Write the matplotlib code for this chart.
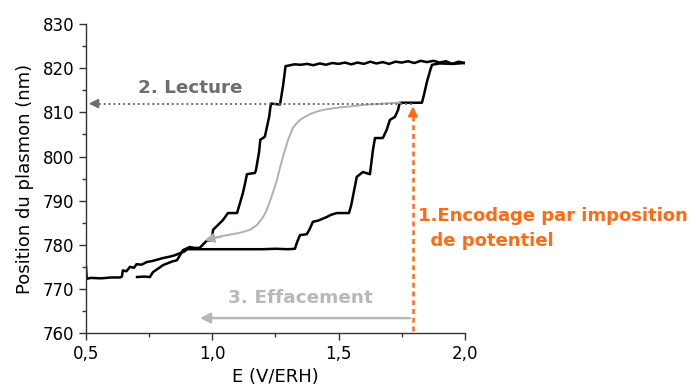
import numpy as np
import matplotlib
matplotlib.use('Agg')
import matplotlib.pyplot as plt
from matplotlib.ticker import MultipleLocator, FuncFormatter

plt.rcParams['font.family'] = ['DejaVu Sans']

# aller : balayage vers les potentiels croissants
E_aller = [0.500, 0.503, 0.52, 0.56, 0.60, 0.635, 0.642, 0.646, 0.66, 0.674, 0.69, 0.70,
           0.72, 0.741, 0.76, 0.78, 0.805, 0.83, 0.85, 0.872, 0.89, 0.90, 0.95, 1.00,
           1.10, 1.20, 1.25, 1.30, 1.327, 1.335, 1.347, 1.374, 1.385, 1.398, 1.42, 1.453,
           1.47, 1.493, 1.541, 1.55, 1.572, 1.596, 1.624, 1.636, 1.644, 1.675, 1.69, 1.703,
           1.723, 1.735, 1.742, 1.79, 1.83, 1.838, 1.85, 1.865, 1.87, 1.90, 1.95, 2.00]
P_aller = [775.0, 772.3, 772.5, 772.4, 772.6, 772.6, 772.8, 774.2, 774.0, 775.0, 774.8, 775.6,
           775.5, 776.1, 776.3, 776.6, 777.0, 777.3, 777.6, 778.1, 778.5, 779.0, 779.0, 779.0,
           779.0, 779.0, 779.1, 779.0, 779.1, 780.5, 782.2, 782.4, 783.5, 785.2, 785.5, 786.3,
           786.8, 787.2, 787.2, 789.0, 795.4, 796.5, 796.0, 801.5, 804.2, 804.2, 806.0, 808.3,
           809.0, 810.5, 812.2, 812.2, 812.2, 814.0, 817.0, 820.0, 820.8, 821.1, 821.0, 821.2]

# retour : balayage vers les potentiels décroissants
E_retour = [2.00, 1.975, 1.95, 1.925, 1.90, 1.875, 1.85, 1.825, 1.80, 1.775, 1.75, 1.725,
            1.70, 1.675, 1.65, 1.625, 1.60, 1.575, 1.55, 1.525, 1.50, 1.475, 1.45, 1.425,
            1.40, 1.375, 1.35, 1.325, 1.30, 1.29, 1.28, 1.268, 1.25, 1.232, 1.225, 1.208,
            1.19, 1.185, 1.173, 1.169, 1.137, 1.13, 1.121, 1.098, 1.062, 1.042, 1.003, 0.998,
            0.979, 0.95, 0.93, 0.911, 0.884, 0.86, 0.84, 0.805, 0.78, 0.765, 0.753, 0.73, 0.702]
P_retour = [821.2, 821.5, 821.0, 821.6, 821.3, 821.7, 821.4, 821.7, 821.2, 821.6, 821.3, 821.5,
            821.0, 821.4, 821.1, 821.5, 821.0, 821.3, 820.9, 821.3, 821.0, 821.2, 820.8, 821.1,
            820.7, 821.0, 820.8, 820.9, 820.6, 820.5, 816.0, 811.8, 811.9, 812.0, 809.0, 804.5,
            803.8, 801.0, 797.0, 796.3, 796.0, 794.0, 791.7, 787.2, 787.2, 785.6, 783.4, 781.0,
            781.0, 779.3, 779.3, 779.5, 778.8, 776.5, 776.2, 775.4, 774.4, 773.8, 772.7, 772.8, 772.7]

# relaxation après encodage (courbe grise)
E_relax = [1.742, 1.70, 1.65, 1.60, 1.55, 1.50, 1.45, 1.42, 1.39, 1.37, 1.347, 1.33,
           1.319, 1.30, 1.28, 1.268, 1.256, 1.235, 1.216, 1.20, 1.177, 1.149, 1.12,
           1.098, 1.05, 1.003, 0.959]
P_relax = [812.2, 812.1, 811.9, 811.7, 811.4, 811.1, 810.7, 810.3, 809.7, 809.1, 808.3, 807.3,
           806.5, 803.8, 800.0, 797.5, 794.7, 791.0, 787.9, 786.2, 784.5, 783.4, 782.9,
           782.6, 782.1, 781.5, 780.9]

E_ecriture = 1.794
P_lecture = 812.0

fig = plt.figure(figsize=(6.97, 3.9), dpi=100)
ax = fig.add_axes([0.1234, 0.146, 0.5436, 0.792])

ax.plot(E_aller, P_aller, color='black', lw=1.8, solid_joinstyle='round')
ax.plot(E_retour, P_retour, color='black', lw=1.8, solid_joinstyle='round')
ax.plot(E_relax[:-1], P_relax[:-1], color='#b0b0b0', lw=1.4)
ax.annotate('', xy=(E_relax[-1], P_relax[-1]), xytext=(E_relax[-3], P_relax[-3]),
            arrowprops=dict(arrowstyle='-|>', color='#b0b0b0', lw=1.4, mutation_scale=14))

# 2. Lecture
ax.plot([0.53, E_ecriture], [P_lecture, P_lecture], color='#6e6e6e', lw=1.4, ls=(0, (1, 1.5)))
ax.annotate('', xy=(0.5, P_lecture), xytext=(0.56, P_lecture),
            arrowprops=dict(arrowstyle='-|>', color='#6e6e6e', lw=1.2, mutation_scale=14))
ax.text(0.912, 815.6, '2. Lecture', color='#6e6e6e', fontsize=13.2, fontweight='bold',
        ha='center', va='center')

# 1. Encodage
ax.plot([E_ecriture, E_ecriture], [760.5, 809.5], color='#ff6a13', lw=1.8, ls=(0, (2, 1.5)))
ax.annotate('', xy=(E_ecriture, P_lecture), xytext=(E_ecriture, 808.5),
            arrowprops=dict(arrowstyle='-|>', color='#ff6a13', lw=1.5, mutation_scale=14))
ax.text(1.813, 783.7, '1.Encodage par imposition\n  de potentiel', color='#ff6a13',
        fontsize=13, fontweight='bold', ha='left', va='center', linespacing=1.45,
        clip_on=False)

# 3. Effacement
ax.annotate('', xy=(0.94, 763.4), xytext=(E_ecriture, 763.4),
            arrowprops=dict(arrowstyle='-|>', color='#b8b8b8', lw=1.8, mutation_scale=15))
ax.text(1.347, 767.9, '3. Effacement', color='#b8b8b8', fontsize=13.3, fontweight='bold',
        ha='center', va='center')

ax.set_xlim(0.5, 2.0)
ax.set_ylim(760, 830)
ax.xaxis.set_major_locator(MultipleLocator(0.5))
ax.xaxis.set_minor_locator(MultipleLocator(0.25))
ax.yaxis.set_major_locator(MultipleLocator(10))
ax.yaxis.set_minor_locator(MultipleLocator(5))
ax.xaxis.set_major_formatter(FuncFormatter(lambda v, p: f'{v:.1f}'.replace('.', ',')))
ax.spines['top'].set_visible(False)
ax.spines['right'].set_visible(False)
for s in ('left', 'bottom'):
    ax.spines[s].set_color('#333333')
    ax.spines[s].set_linewidth(1.0)
ax.tick_params(which='major', direction='out', length=5, width=1, color='#333333', labelsize=12)
ax.tick_params(which='minor', direction='out', length=3, width=1, color='#333333')
ax.set_xlabel('E (V/ERH)', fontsize=13, labelpad=4)
ax.set_ylabel('Position du plasmon (nm)', fontsize=13, labelpad=6)

fig.savefig('out.png', dpi=100)
